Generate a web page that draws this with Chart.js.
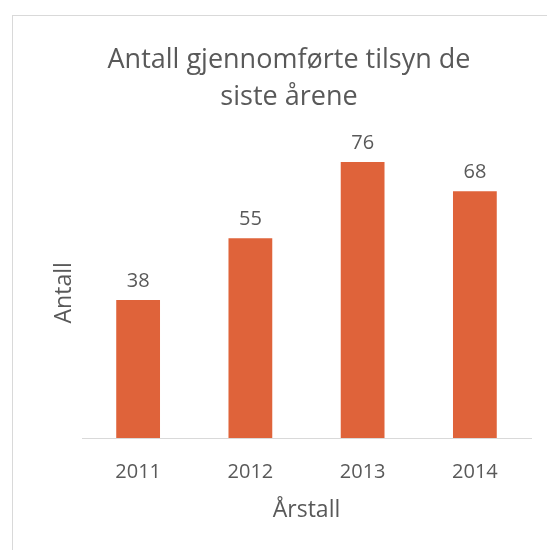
<!DOCTYPE html>
<html>
<head>
<meta charset="utf-8">
<script src="https://cdn.jsdelivr.net/npm/chart.js@4.4.0/dist/chart.umd.min.js"></script>
<style>
  html, body { margin: 0; padding: 0; background: #fff; }
  #wrap { position: relative; width: 547px; height: 550px; }
  #frame { position: absolute; left: 12px; top: 15px; right: 0; bottom: 0;
           border-top: 1px solid #d9d9d9; border-left: 1px solid #d9d9d9; }
  canvas { position: absolute; left: 0; top: 0; }
</style>
</head>
<body>
<div id="wrap">
  <div id="frame"></div>
  <canvas id="c" width="547" height="550"></canvas>
</div>
<script>
const years = ['2011', '2012', '2013', '2014'];
const antall = [38, 55, 76, 68];
const titleLines = ['Antall gjennomførte tilsyn de', 'siste årene'];

const FONT = "'Open Sans', sans-serif";
const GREY = '#595959';

// draws value above each bar
const barLabels = {
  id: 'barLabels',
  afterDatasetsDraw(chart) {
    const {ctx} = chart;
    const meta = chart.getDatasetMeta(0);
    ctx.save();
    ctx.font = '20px ' + FONT;
    ctx.fillStyle = GREY;
    ctx.textAlign = 'center';
    ctx.textBaseline = 'bottom';
    meta.data.forEach((bar, i) => {
      ctx.fillText(chart.data.datasets[0].data[i], bar.x, bar.y - 9);
    });
    ctx.restore();
  }
};

const ctx = document.getElementById('c').getContext('2d');
new Chart(ctx, {
  type: 'bar',
  data: {
    labels: years,
    datasets: [{
      data: antall,
      backgroundColor: '#df633a',
      barPercentage: 0.39,
      categoryPercentage: 1
    }]
  },
  options: {
    responsive: false,
    animation: false,
    layout: { padding: { left: 47, right: 16, top: 0, bottom: 22 } },
    plugins: {
      legend: { display: false },
      tooltip: { enabled: false },
      title: {
        display: true,
        text: titleLines,
        color: GREY,
        font: { family: FONT, size: 27, weight: 'normal', lineHeight: 1.4 },
        padding: { top: 41, bottom: 31 }
      }
    },
    scales: {
      x: {
        grid: { display: false },
        border: { display: true, color: '#d9d9d9', width: 1 },
        ticks: { color: GREY, font: { family: FONT, size: 20 }, padding: 14 },
        title: { display: true, text: 'Årstall', color: GREY, font: { family: FONT, size: 23 }, padding: { top: 4, bottom: 4 } },
        afterFit(scale) { scale.height = 90; }
      },
      y: {
        min: 0,
        max: 80,
        grid: { display: false },
        border: { display: false },
        ticks: { display: false },
        title: { display: true, text: 'Antall', color: GREY, font: { family: FONT, size: 23 } },
        afterFit(scale) { scale.width = 35; }
      }
    }
  },
  plugins: [barLabels]
});
</script>
</body>
</html>
